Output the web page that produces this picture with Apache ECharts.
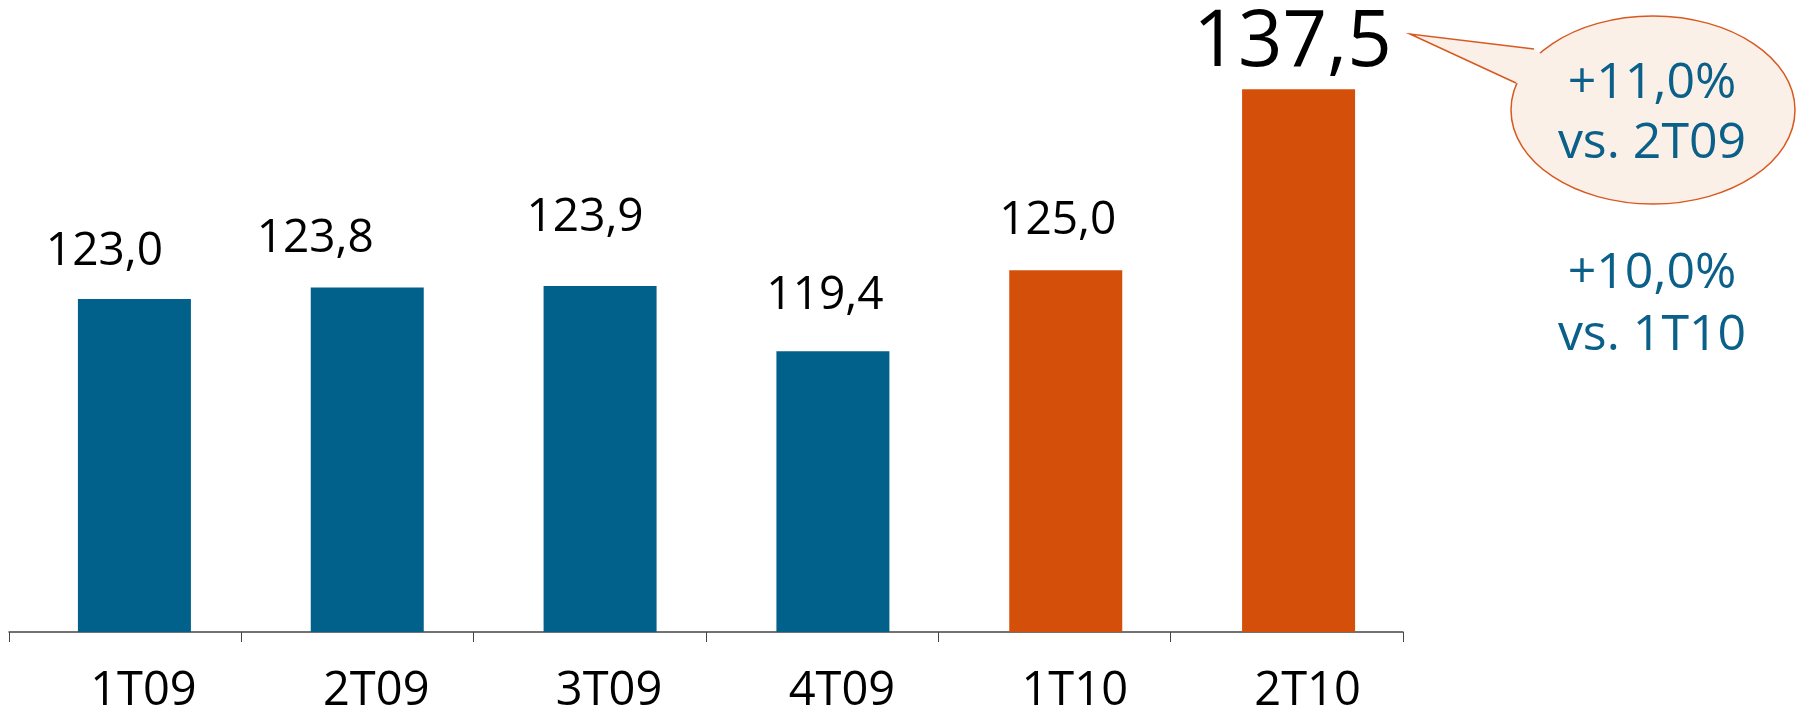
<!DOCTYPE html>
<html>
<head>
<meta charset="utf-8">
<style>
  html, body { margin: 0; padding: 0; background: #fff; }
  #chart { width: 1798px; height: 716px; }
</style>
<script src="https://cdn.jsdelivr.net/npm/echarts@6/dist/echarts.min.js"></script>
</head>
<body>
<div id="chart"></div>
<script>
// chart data
var quarters = ['1T09', '2T09', '3T09', '4T09', '1T10', '2T10'];
var values = [123.0, 123.8, 123.9, 119.4, 125.0, 137.5];
var valueLabels = ['123,0', '123,8', '123,9', '119,4', '125,0', '137,5'];
var calloutLines = ['+11,0%', 'vs. 2T09'];
var noteLines = ['+10,0%', 'vs. 1T10'];

// styling per bar (not data)
var BLUE = '#02618B', ORANGE = '#D4500A';
var barColors = [BLUE, BLUE, BLUE, BLUE, ORANGE, ORANGE];
var labelOffsets = [[-30, -24], [-52, -26], [-15, -45], [-8, -32], [-8, -26], [-6, -6]];
var labelSizes = [46, 46, 46, 46, 46, 78];

var FONT = '"Open Sans", "Noto Sans", sans-serif';

var barData = [];
for (var i = 0; i < values.length; i++) {
	barData.push({
		value: values[i],
		itemStyle: { color: barColors[i] },
		label: {
			offset: labelOffsets[i],
			fontSize: labelSizes[i],
			formatter: valueLabels[i]
		}
	});
}

var chart = echarts.init(document.getElementById('chart'));

var option = {
	animation: false,
	backgroundColor: '#ffffff',
	grid: [
		// axis line + ticks
		{ left: 9, right: 395, top: 53, bottom: 84 },
		// bars + labels
		{ left: 18, right: 383, top: 53, bottom: 84 }
	],
	xAxis: [{
		type: 'category',
		gridIndex: 0,
		data: quarters,
		axisLine: { show: true, lineStyle: { color: '#444', width: 1.5 } },
		axisTick: { show: true, length: 10, lineStyle: { color: '#444', width: 1 } },
		axisLabel: { show: false }
	}, {
		type: 'category',
		gridIndex: 1,
		data: quarters,
		axisLine: { show: false },
		axisTick: { show: false },
		axisLabel: {
			show: true,
			margin: 36,
			padding: [0, 0, 0, 18],
			color: '#000',
			fontSize: 47,
			fontFamily: FONT
		}
	}],
	yAxis: [{
		type: 'value',
		gridIndex: 0,
		min: 100,
		max: 140,
		show: false
	}, {
		type: 'value',
		gridIndex: 1,
		min: 100,
		max: 140,
		show: false
	}],
	series: [{
		type: 'bar',
		xAxisIndex: 1,
		yAxisIndex: 1,
		barWidth: 113,
		data: barData,
		label: {
			show: true,
			position: 'top',
			distance: 0,
			color: '#000',
			fontFamily: FONT
		}
	}],
	graphic: [{
		type: 'ellipse',
		shape: { cx: 1653, cy: 110, rx: 142, ry: 94 },
		style: { fill: '#FAF0E8', stroke: '#D9581F', lineWidth: 1.5 },
		z: 10
	}, {
		// tail fill covering the ellipse border
		type: 'polygon',
		shape: { points: [[1410, 34], [1534, 49], [1550, 60], [1532, 86], [1516, 83]] },
		style: { fill: '#FAF0E8', stroke: null },
		z: 11
	}, {
		type: 'polyline',
		shape: { points: [[1534, 49], [1410, 34], [1516, 83]] },
		style: { stroke: '#D9581F', lineWidth: 1.5, fill: null },
		z: 12
	}, {
		type: 'text',
		x: 1652, y: 114,
		style: {
			text: calloutLines.join('\n'),
			fill: '#0A6089',
			font: '50px ' + FONT,
			lineHeight: 60,
			align: 'center',
			verticalAlign: 'middle'
		},
		z: 13
	}, {
		type: 'text',
		x: 1652, y: 305,
		style: {
			text: noteLines.join('\n'),
			fill: '#0A6089',
			font: '50px ' + FONT,
			lineHeight: 62,
			align: 'center',
			verticalAlign: 'middle'
		},
		z: 13
	}]
};

chart.setOption(option);
</script>
</body>
</html>
